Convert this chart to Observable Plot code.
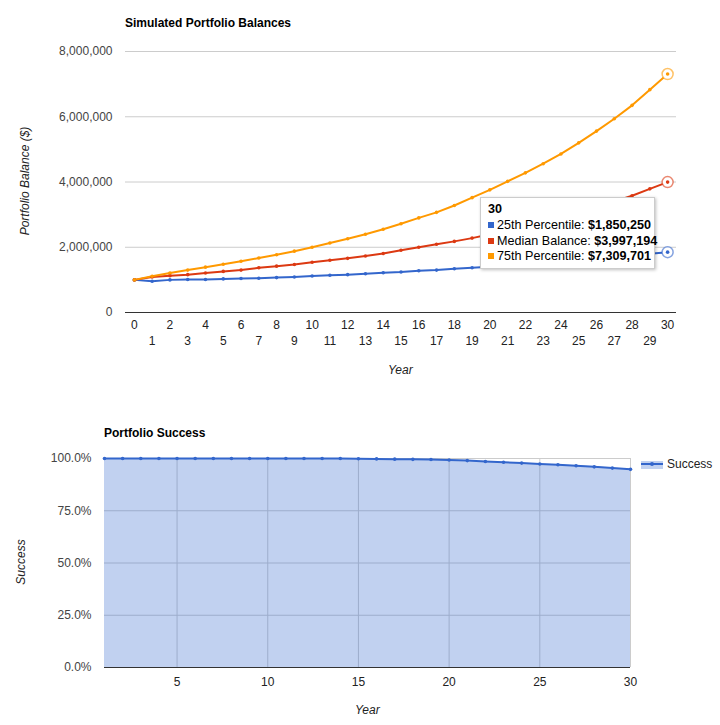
<!DOCTYPE html>
<html>
<head>
<meta charset="utf-8">
<script src="https://cdn.jsdelivr.net/npm/d3@7"></script>
<script src="https://cdn.jsdelivr.net/npm/@observablehq/plot@0.6"></script>
<style>
  body { margin: 0; background: #fff; font-family: Arial, "Liberation Sans", sans-serif; }
  #wrap { position: relative; width: 720px; height: 725px; overflow: hidden; }
  .abs { position: absolute; white-space: nowrap; }
  .title { font-weight: bold; font-size: 12px; color: #000; }
  .axtitle { font-style: italic; font-size: 12px; color: #222; }
  .tip { position: absolute; background: #fff; border: 1px solid #ccc; box-shadow: 1px 1px 3px rgba(0,0,0,0.25); font-size: 12.6px; color: #000; box-sizing: border-box; }
  .tip .row { position: absolute; left: 7px; white-space: nowrap; line-height: 15px; }
  .tip .sw { display: inline-block; width: 6px; height: 6px; margin-right: 3px; vertical-align: 1px; }
</style>
</head>
<body>
<div id="wrap"></div>
<script>
// ---------- DATA ----------
const years = d3.range(0, 31);
const seriesNames = ["25th Percentile", "Median Balance", "75th Percentile"];
const seriesColors = ["#3366cc", "#dc3912", "#ff9900"];
const p25 = [1000000, 960000, 1000000, 1010000, 1010000, 1030000, 1040000, 1050000, 1070000, 1090000,
  1120000, 1140000, 1160000, 1190000, 1220000, 1240000, 1280000, 1300000, 1340000, 1370000,
  1400000, 1440000, 1480000, 1520000, 1560000, 1610000, 1650000, 1700000, 1750000, 1800000, 1850250];
const median = [1000000, 1090000, 1130000, 1160000, 1210000, 1260000, 1300000, 1370000, 1420000, 1470000,
  1540000, 1600000, 1660000, 1730000, 1810000, 1910000, 2000000, 2090000, 2180000, 2280000,
  2400000, 2520000, 2650000, 2790000, 2930000, 3080000, 3230000, 3400000, 3580000, 3790000, 3997194];
const p75 = [1000000, 1110000, 1210000, 1300000, 1390000, 1480000, 1570000, 1670000, 1770000, 1880000,
  2000000, 2130000, 2260000, 2400000, 2550000, 2720000, 2900000, 3070000, 3280000, 3520000,
  3760000, 4020000, 4280000, 4560000, 4860000, 5200000, 5560000, 5940000, 6350000, 6830000, 7309701];
const balanceTicks = [0, 2000000, 4000000, 6000000, 8000000];

const successYears = d3.range(1, 31);
const success = [1, 1, 1, 1, 1, 1, 1, 1, 1, 1, 1, 1, 1, 1, 0.999, 0.998, 0.997, 0.996, 0.995, 0.993,
  0.990, 0.986, 0.982, 0.978, 0.974, 0.970, 0.965, 0.960, 0.954, 0.948];
const successTicksY = [0, 0.25, 0.5, 0.75, 1];
const successTicksX = [5, 10, 15, 20, 25, 30];

// ---------- TABLES ----------
const seriesValues = [p25, median, p75];
const rows = seriesNames.flatMap((name, s) => years.map((y, i) => ({year: y, value: seriesValues[s][i], series: name})));
const lastRows = rows.filter(d => d.year === 30);
const successRows = successYears.map((y, i) => ({year: y, value: success[i]}));

const wrap = document.getElementById("wrap");
const font = "Arial, 'Liberation Sans', sans-serif";

// ---------- TOP CHART ----------
const topChart = Plot.plot({
  width: 720, height: 390,
  marginLeft: 125, marginRight: 44, marginTop: 51, marginBottom: 78,
  style: {fontFamily: font, fontSize: "12px", color: "#444", background: "transparent", overflow: "visible"},
  x: {domain: [-0.5, 30.5]},
  y: {domain: [0, 8000000]},
  color: {domain: seriesNames, range: seriesColors},
  marks: [
    Plot.ruleY(balanceTicks.slice(1), {stroke: "#ccc", strokeWidth: 1}),
    Plot.ruleY([0], {stroke: "#333", strokeWidth: 1}),
    Plot.axisY({ticks: balanceTicks, tickSize: 0, tickPadding: 13, tickFormat: d3.format(","), label: null, fill: "#444"}),
    Plot.axisX({ticks: years.filter(y => y % 2 === 0), tickSize: 0, tickPadding: 8, tickFormat: d3.format("d"), label: null, fill: "#222"}),
    Plot.axisX({ticks: years.filter(y => y % 2 === 1), tickSize: 0, tickPadding: 24, tickFormat: d3.format("d"), label: null, fill: "#222"}),
    Plot.line(rows, {x: "year", y: "value", z: "series", stroke: "series", strokeWidth: 2}),
    Plot.dot(rows, {x: "year", y: "value", fill: "series", r: 1.8}),
    Plot.dot(lastRows, {x: "year", y: "value", stroke: "series", fill: "white", r: 5.5, strokeWidth: 1.5, strokeOpacity: 0.6}),
    Plot.dot(lastRows, {x: "year", y: "value", fill: "series", r: 1.8})
  ]
});
topChart.style.position = "absolute";
topChart.style.left = "0px";
topChart.style.top = "0px";
wrap.appendChild(topChart);

// ---------- BOTTOM CHART ----------
const bottomChart = Plot.plot({
  width: 720, height: 325,
  marginLeft: 104, marginRight: 90, marginTop: 58, marginBottom: 58,
  style: {fontFamily: font, fontSize: "12px", color: "#444", background: "transparent", overflow: "visible"},
  x: {domain: [1, 30]},
  y: {domain: [0, 1]},
  marks: [
    Plot.ruleY(successTicksY.slice(1), {stroke: "#ccc", strokeWidth: 1}),
    Plot.ruleX(successTicksX, {stroke: "#ccc", strokeWidth: 1}),
    Plot.areaY(successRows, {x: "year", y: "value", fill: "#3366cc", fillOpacity: 0.3}),
    Plot.ruleY([0], {stroke: "#333", strokeWidth: 1}),
    Plot.line(successRows, {x: "year", y: "value", stroke: "#3366cc", strokeWidth: 2}),
    Plot.dot(successRows, {x: "year", y: "value", fill: "#3366cc", r: 1.8}),
    Plot.axisY({ticks: successTicksY, tickSize: 0, tickPadding: 13, tickFormat: d3.format(".1%"), label: null, fill: "#444"}),
    Plot.axisX({ticks: successTicksX, tickSize: 0, tickPadding: 10, label: null, fill: "#222"})
  ]
});
bottomChart.style.position = "absolute";
bottomChart.style.left = "0px";
bottomChart.style.top = "400px";
wrap.appendChild(bottomChart);

// ---------- HTML TEXT ----------
function addText(txt, cls, css) {
  const d = document.createElement("div");
  d.className = "abs " + cls;
  d.textContent = txt;
  Object.assign(d.style, css);
  wrap.appendChild(d);
  return d;
}
addText("Simulated Portfolio Balances", "title", {left: "125px", top: "16px"});
addText("Year", "axtitle", {left: "388px", top: "363px"});
addText("Portfolio Balance ($)", "axtitle", {left: "25px", top: "181px", transform: "translate(-50%,-50%) rotate(-90deg)"});

addText("Portfolio Success", "title", {left: "104px", top: "426px"});
addText("Year", "axtitle", {left: "355px", top: "703px"});
addText("Success", "axtitle", {left: "21px", top: "562px", transform: "translate(-50%,-50%) rotate(-90deg)"});

// legend
const lg = document.createElement("div");
lg.className = "abs";
Object.assign(lg.style, {left: "641px", top: "458px", width: "80px", height: "14px"});
lg.innerHTML = '<div style="position:absolute;left:0;top:3px;width:22px;height:8px;background:rgba(51,102,204,0.3)"></div>' +
  '<div style="position:absolute;left:0;top:5px;width:22px;height:2px;background:#3366cc"></div>' +
  '<div style="position:absolute;left:9px;top:4px;width:4px;height:4px;border-radius:2px;background:#3366cc"></div>' +
  '<div style="position:absolute;left:26px;top:-1px;font-size:12px;color:#222">Success</div>';
wrap.appendChild(lg);

// tooltip
const tip = document.createElement("div");
tip.className = "tip";
Object.assign(tip.style, {left: "480px", top: "197px", width: "175px", height: "72px"});
const fmt = d3.format("$,");
let html = '<div class="row" style="top:4px;font-weight:bold">30</div>';
seriesNames.forEach((n, i) => {
  const v = lastRows.find(d => d.series === n).value;
  html += `<div class="row" style="top:${20 + i * 15.5}px"><span class="sw" style="background:${seriesColors[i]}"></span>${n}: <b>${fmt(v)}</b></div>`;
});
tip.innerHTML = html;
wrap.appendChild(tip);
</script>
</body>
</html>
